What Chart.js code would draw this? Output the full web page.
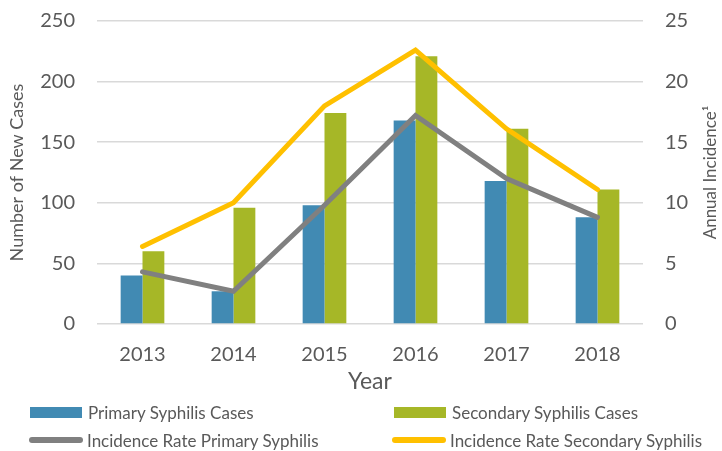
<!DOCTYPE html>
<html>
<head>
<meta charset="utf-8">
<script src="https://cdn.jsdelivr.net/npm/chart.js@4/dist/chart.umd.min.js"></script>
<style>
  html, body { margin: 0; padding: 0; background: #fff; }
  #wrap { position: relative; width: 722px; height: 451px; }
  #legend { position: absolute; left: 0; top: 0; width: 722px; height: 451px; pointer-events: none;
    font-family: Lato, "Open Sans", sans-serif; font-size: 17px; color: #595959; }
  .item { position: absolute; display: flex; align-items: center; white-space: nowrap; }
  .box { width: 52px; height: 11px; margin-right: 6px; }
  .ln { width: 54px; height: 6px; border-radius: 3px; margin-right: 4px; }
</style>
</head>
<body>
<div id="wrap">
  <canvas id="chart" width="722" height="451"></canvas>
  <div id="legend"></div>
</div>
<script>
const years = ["2013", "2014", "2015", "2016", "2017", "2018"];
const primaryCases = [40, 27, 98, 168, 118, 88];
const secondaryCases = [60, 96, 174, 221, 161, 111];
const primaryRate = [4.3, 2.7, 9.8, 17.2, 12.0, 8.8];
const secondaryRate = [6.4, 10.0, 18.0, 22.6, 16.1, 11.1];

const textColor = "#595959";
const fontFamily = "Lato, 'Open Sans', sans-serif";

// right axis title reads bottom-to-top, so draw it by hand
const rightTitle = {
    id: "rightTitle",
    afterDraw(chart) {
        const ctx = chart.ctx;
        const area = chart.chartArea;
        ctx.save();
        ctx.translate(711, (area.top + area.bottom) / 2);
        ctx.rotate(-Math.PI / 2);
        ctx.fillStyle = textColor;
        ctx.font = "17px " + fontFamily;
        ctx.textAlign = "center";
        ctx.textBaseline = "middle";
        ctx.fillText("Annual Incidence¹", 0, 0);
        ctx.restore();
    }
};

const chart = new Chart(document.getElementById("chart"), {
    type: "bar",
    data: {
        labels: years,
        datasets: [
            {
                type: "line",
                label: "Incidence Rate Primary Syphilis",
                data: primaryRate,
                yAxisID: "y1",
                borderColor: "#808080",
                backgroundColor: "#808080",
                borderWidth: 5,
                borderCapStyle: "round",
                pointRadius: 0,
                order: 1,
            },
            {
                type: "line",
                label: "Incidence Rate Secondary Syphilis",
                data: secondaryRate,
                yAxisID: "y1",
                borderColor: "#FFC000",
                backgroundColor: "#FFC000",
                borderWidth: 5,
                borderCapStyle: "round",
                pointRadius: 0,
                order: 0,
            },
            {
                label: "Primary Syphilis Cases",
                data: primaryCases,
                backgroundColor: "#418AB3",
                order: 2,
            },
            {
                label: "Secondary Syphilis Cases",
                data: secondaryCases,
                backgroundColor: "#A6B727",
                order: 3,
            },
        ],
    },
    plugins: [rightTitle],
    options: {
        responsive: false,
        animation: false,
        layout: { padding: { top: 21, bottom: 52, left: 0, right: 0 } },
        datasets: {
            bar: { categoryPercentage: 0.48, barPercentage: 1.0 },
        },
        plugins: {
            legend: { display: false },
            tooltip: { enabled: false },
        },
        scales: {
            x: {
                grid: { display: false, drawTicks: false },
                border: { display: false },
                ticks: { color: textColor, font: { family: fontFamily, size: 20 }, padding: 19 },
                title: {
                    display: true,
                    text: "Year",
                    color: textColor,
                    font: { family: fontFamily, size: 23 },
                    padding: { top: 1, bottom: 4 },
                },
                afterFit(scale) { scale.height = 75; },
            },
            y: {
                position: "left",
                min: 0,
                max: 250,
                ticks: { stepSize: 50, color: textColor, font: { family: fontFamily, size: 20 }, padding: 22 },
                grid: { color: "#D9D9D9", lineWidth: 1.5, drawTicks: false },
                border: { display: false },
                title: {
                    display: true,
                    text: "Number of New Cases",
                    color: textColor,
                    font: { family: fontFamily, size: 18 },
                    padding: { top: 6, bottom: 0 },
                },
                afterFit(scale) {
                    scale.width = 97;
                    scale.paddingTop = 0;
                    scale.paddingBottom = 0;
                },
            },
            y1: {
                position: "right",
                min: 0,
                max: 25,
                ticks: { stepSize: 5, color: textColor, font: { family: fontFamily, size: 20 }, padding: 22 },
                grid: { drawOnChartArea: false, drawTicks: false },
                border: { display: false },
                afterFit(scale) {
                    scale.width = 79;
                    scale.paddingTop = 0;
                    scale.paddingBottom = 0;
                },
            },
        },
    },
});

// two-column legend under the chart, as in the original
const legendItems = [
    { label: "Primary Syphilis Cases", color: "#418AB3", kind: "box", x: 30, y: 412 },
    { label: "Secondary Syphilis Cases", color: "#A6B727", kind: "box", x: 394, y: 412 },
    { label: "Incidence Rate Primary Syphilis", color: "#808080", kind: "ln", x: 29, y: 440 },
    { label: "Incidence Rate Secondary Syphilis", color: "#FFC000", kind: "ln", x: 392, y: 440 },
];
const legend = document.getElementById("legend");
legendItems.forEach(function (it) {
    const el = document.createElement("div");
    el.className = "item";
    el.style.left = it.x + "px";
    el.style.top = (it.y - 10) + "px";
    el.style.height = "20px";
    const sw = document.createElement("span");
    sw.className = it.kind;
    sw.style.background = it.color;
    const tx = document.createElement("span");
    tx.textContent = it.label;
    el.appendChild(sw);
    el.appendChild(tx);
    legend.appendChild(el);
});
</script>
</body>
</html>
